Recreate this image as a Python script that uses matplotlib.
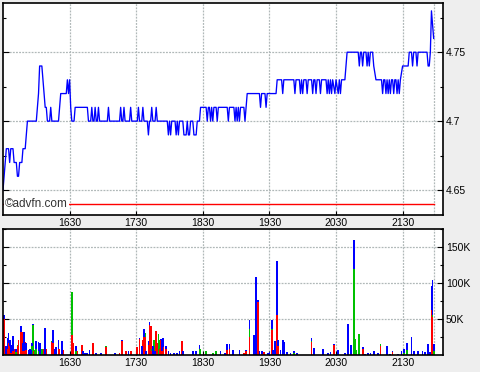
"""Intraday price and volume chart, advfn style."""

import matplotlib

matplotlib.use("Agg")
import matplotlib.pyplot as plt
import numpy as np
from matplotlib.ticker import FixedLocator, FuncFormatter

# x positions are minutes after 15:30
TICK_MINUTES = [60, 120, 180, 240, 300, 360]
TICK_LABELS = ["1630", "1730", "1830", "1930", "2030", "2130"]
X_END = 396.4
LAST_TRADE = 388.6
PREV_CLOSE = 4.64

price_min = [
    0, 1, 3, 5, 6, 7, 9, 10, 12, 13, 14, 15, 17, 18, 20, 21, 22, 30, 31, 32,
    33, 35, 36, 37, 38, 39, 40, 42, 43, 44, 50, 51, 52, 57, 58, 59, 60, 61, 62, 64,
    65, 76, 77, 79, 80, 81, 82, 83, 84, 85, 86, 87, 94, 95, 96, 105, 106, 107, 108, 109,
    110, 114, 115, 116, 121, 122, 123, 125, 126, 127, 130, 131, 132, 133, 134, 135, 137, 138, 139, 148,
    149, 150, 151, 152, 155, 156, 157, 158, 159, 162, 163, 165, 166, 167, 168, 169, 171, 172, 174, 175,
    177, 178, 183, 184, 185, 186, 187, 188, 189, 190, 192, 193, 194, 202, 203, 204, 208, 209, 210, 211,
    212, 213, 214, 217, 218, 219, 220, 231, 232, 233, 236, 237, 238, 246, 247, 251, 252, 253, 262, 263,
    264, 267, 268, 269, 270, 271, 273, 274, 275, 278, 279, 280, 281, 282, 283, 285, 286, 287, 291, 292,
    293, 294, 295, 296, 297, 299, 300, 302, 303, 304, 305, 308, 309, 310, 320, 321, 322, 323, 324, 325,
    327, 328, 329, 330, 331, 333, 334, 336, 340, 341, 342, 343, 344, 345, 346, 347, 348, 349, 350, 351,
    352, 353, 354, 355, 356, 357, 358, 360, 365, 366, 368, 369, 370, 372, 373, 374, 382, 383, 384, 385,
    386, 388,
]
price = [
    4.65, 4.66, 4.68, 4.68, 4.67, 4.68, 4.68, 4.67, 4.67, 4.66, 4.66, 4.67, 4.67, 4.68, 4.68, 4.69, 4.70, 4.70, 4.71, 4.72,
    4.74, 4.74, 4.73, 4.72, 4.71, 4.71, 4.70, 4.70, 4.71, 4.70, 4.70, 4.71, 4.72, 4.72, 4.73, 4.72, 4.73, 4.71, 4.70, 4.70,
    4.71, 4.71, 4.70, 4.70, 4.71, 4.70, 4.70, 4.71, 4.70, 4.70, 4.71, 4.70, 4.70, 4.71, 4.70, 4.70, 4.71, 4.70, 4.70, 4.71,
    4.70, 4.70, 4.71, 4.70, 4.70, 4.71, 4.70, 4.70, 4.71, 4.70, 4.70, 4.69, 4.70, 4.70, 4.71, 4.70, 4.70, 4.71, 4.70, 4.70,
    4.69, 4.70, 4.69, 4.70, 4.70, 4.69, 4.70, 4.69, 4.70, 4.70, 4.69, 4.69, 4.70, 4.69, 4.69, 4.70, 4.70, 4.69, 4.69, 4.70,
    4.70, 4.71, 4.71, 4.70, 4.71, 4.71, 4.70, 4.71, 4.70, 4.71, 4.71, 4.70, 4.71, 4.71, 4.70, 4.71, 4.71, 4.70, 4.71, 4.70,
    4.71, 4.70, 4.71, 4.71, 4.70, 4.71, 4.72, 4.72, 4.71, 4.72, 4.72, 4.71, 4.72, 4.72, 4.73, 4.73, 4.72, 4.73, 4.73, 4.72,
    4.73, 4.73, 4.72, 4.73, 4.72, 4.73, 4.73, 4.72, 4.73, 4.73, 4.72, 4.73, 4.73, 4.72, 4.73, 4.73, 4.72, 4.73, 4.73, 4.72,
    4.73, 4.72, 4.73, 4.72, 4.73, 4.72, 4.73, 4.72, 4.73, 4.72, 4.73, 4.73, 4.74, 4.75, 4.75, 4.74, 4.75, 4.75, 4.74, 4.75,
    4.75, 4.74, 4.75, 4.74, 4.75, 4.75, 4.74, 4.73, 4.73, 4.73, 4.72, 4.73, 4.73, 4.72, 4.73, 4.72, 4.73, 4.72, 4.73, 4.73,
    4.72, 4.73, 4.73, 4.72, 4.73, 4.72, 4.73, 4.74, 4.74, 4.75, 4.75, 4.74, 4.75, 4.75, 4.74, 4.75, 4.75, 4.74, 4.74, 4.75,
    4.78, 4.76,
]

# volume per minute, thousands of shares, stacked red / green / blue
vol_min = [
    1, 3, 4, 5, 6, 7, 8, 9, 11, 12, 13, 14, 16, 17, 18, 19, 20, 21, 23, 24,
    25, 26, 27, 29, 30, 32, 33, 35, 36, 38, 39, 44, 45, 47, 48, 50, 51, 53, 54, 62,
    63, 66, 67, 71, 72, 74, 76, 78, 81, 84, 88, 93, 101, 105, 107, 111, 113, 115, 121, 123,
    125, 126, 127, 128, 129, 131, 132, 133, 134, 135, 136, 137, 138, 139, 140, 141, 142, 143, 144, 147,
    149, 151, 154, 157, 159, 161, 162, 171, 174, 177, 178, 183, 189, 192, 196, 200, 202, 204, 207, 213,
    217, 219, 222, 226, 228, 230, 231, 233, 235, 239, 240, 242, 243, 245, 247, 248, 250, 252, 253, 256,
    259, 262, 265, 278, 280, 288, 293, 295, 298, 302, 308, 311, 313, 314, 316, 317, 318, 321, 324, 326,
    329, 331, 334, 338, 340, 346, 349, 351, 356, 359, 361, 364, 368, 370, 374, 378, 380, 383, 385, 386,
    387, 388,
]
vol_red = [
    50, 2, 9, 16, 12, 3, 7, 5, 8, 0, 12, 21, 32, 32, 5, 6, 18, 7, 0, 0,
    0, 0, 5, 0, 0, 0, 0, 0, 8, 0, 9, 18, 16, 0, 0, 9, 8, 0, 7, 28,
    16, 0, 5, 14, 0, 0, 0, 0, 16, 0, 0, 11, 0, 3, 19, 5, 0, 5, 11, 22,
    0, 21, 25, 25, 0, 14, 42, 40, 5, 0, 3, 0, 34, 16, 0, 9, 21, 5, 11, 9,
    0, 0, 0, 0, 0, 19, 0, 0, 0, 0, 0, 0, 0, 0, 0, 0, 7, 9, 0, 0,
    3, 5, 25, 0, 0, 74, 0, 2, 4, 0, 0, 35, 0, 0, 56, 12, 0, 0, 0, 0,
    0, 0, 0, 18, 0, 0, 0, 0, 14, 0, 0, 0, 0, 0, 2, 0, 0, 0, 8, 0,
    0, 0, 0, 0, 12, 0, 0, 4, 0, 0, 0, 0, 0, 0, 0, 0, 0, 0, 0, 62,
    53, 0,
]
vol_green = [
    0, 0, 0, 0, 0, 0, 2, 0, 0, 4, 2, 0, 0, 0, 0, 0, 0, 0, 0, 0,
    0, 12, 36, 7, 8, 5, 0, 9, 0, 0, 0, 1, 0, 0, 0, 0, 0, 0, 0, 60,
    0, 5, 0, 0, 0, 0, 0, 0, 0, 0, 0, 2, 0, 0, 0, 0, 0, 0, 0, 0,
    0, 0, 0, 6, 0, 0, 0, 0, 3, 0, 18, 0, 0, 0, 29, 12, 0, 0, 0, 0,
    0, 0, 0, 0, 0, 0, 0, 0, 0, 9, 9, 6, 3, 5, 2, 0, 0, 0, 0, 0,
    0, 0, 11, 0, 0, 0, 0, 0, 0, 0, 0, 1, 0, 0, 0, 0, 0, 0, 0, 0,
    0, 3, 0, 2, 0, 0, 0, 0, 0, 0, 0, 0, 0, 0, 117, 22, 7, 29, 0, 0,
    0, 0, 0, 0, 3, 0, 0, 0, 0, 0, 3, 7, 0, 0, 0, 0, 0, 0, 0, 0,
    2, 6,
]
vol_blue = [
    5, 10, 14, 14, 9, 11, 0, 21, 0, 5, 0, 0, 8, 0, 11, 26, 0, 9, 7, 9,
    7, 5, 2, 0, 11, 13, 16, 0, 0, 37, 0, 0, 19, 9, 11, 12, 0, 19, 0, 0,
    0, 7, 0, 0, 6, 3, 3, 7, 0, 3, 3, 0, 3, 0, 2, 0, 5, 0, 0, 1,
    12, 0, 11, 0, 5, 5, 4, 0, 0, 12, 0, 5, 0, 0, 0, 0, 1, 17, 12, 3,
    5, 3, 3, 3, 5, 0, 5, 5, 6, 5, 0, 0, 0, 0, 3, 3, 8, 6, 7, 7,
    0, 2, 12, 28, 109, 2, 5, 3, 0, 3, 4, 13, 7, 19, 74, 9, 7, 21, 18, 4,
    3, 2, 3, 3, 10, 8, 3, 4, 1, 7, 3, 43, 14, 14, 41, 0, 0, 0, 3, 2,
    3, 3, 5, 3, 0, 12, 2, 2, 2, 5, 6, 10, 25, 6, 6, 5, 4, 15, 4, 34,
    49, 9,
]

BG = "#eeeeee"
GRID = "#b0b8b8"
plt.rcParams["font.family"] = ["Liberation Sans", "DejaVu Sans"]
plt.rcParams["font.size"] = 7.5

fig = plt.figure(figsize=(4.8, 3.72), dpi=100, facecolor=BG)
ax_p = fig.add_axes([3 / 480, 1 - 215 / 372, 440 / 480, 212 / 372])
ax_v = fig.add_axes([3 / 480, 1 - 355 / 372, 440 / 480, 126 / 372])

# price panel
ax_p.plot(price_min, price, color="#0000ff", linewidth=0.95)
ax_p.plot([0, LAST_TRADE], [PREV_CLOSE, PREV_CLOSE], color="red", linewidth=1)
ax_p.set_ylim(4.6319, 4.7857)
ax_p.yaxis.set_major_locator(FixedLocator([4.65, 4.70, 4.75]))
ax_p.yaxis.set_minor_locator(FixedLocator([4.675, 4.725, 4.775]))
ax_p.yaxis.set_major_formatter(FuncFormatter(lambda v, _: f"{v:g}"))
ax_p.text(
    0.005, 0.052, "©advfn.com", transform=ax_p.transAxes, fontsize=8.5,
    color="#333333", va="center", ha="left",
    bbox=dict(facecolor="white", edgecolor="none", pad=0.6),
)

# volume panel
red = np.array(vol_red) * 1000
green = np.array(vol_green) * 1000
blue = np.array(vol_blue) * 1000
bar_style = dict(width=1.6, linewidth=0, antialiased=False)
ax_v.bar(vol_min, red, color="#ff0000", **bar_style)
ax_v.bar(vol_min, green, bottom=red, color="#00c000", **bar_style)
ax_v.bar(vol_min, blue, bottom=red + green, color="#0000ff", **bar_style)
ax_v.set_ylim(0, 175000)
ax_v.yaxis.set_major_locator(FixedLocator([50000, 100000, 150000]))
ax_v.yaxis.set_minor_locator(FixedLocator([25000, 75000, 125000, 175000]))
ax_v.yaxis.set_major_formatter(FuncFormatter(lambda v, _: f"{v / 1000:.0f}K"))

for ax in (ax_p, ax_v):
    ax.set_facecolor("white")
    ax.set_xlim(0, X_END)
    ax.set_xticks(TICK_MINUTES)
    ax.set_xticklabels(TICK_LABELS)
    ax.grid(True, which="major", color=GRID, linestyle=(0, (1.5, 1)), linewidth=0.9)
    ax.set_axisbelow(True)
    ax.axvline(LAST_TRADE, color=GRID, linestyle=(0, (1.5, 1)), linewidth=0.9, zorder=0.5)
    ax.tick_params(axis="y", which="both", direction="in", left=True, right=True,
                   labelleft=False, labelright=True, pad=2, colors="black")
    ax.tick_params(axis="y", which="major", length=4, width=0.8)
    ax.tick_params(axis="y", which="minor", length=2.5, width=0.8)
    ax.tick_params(axis="x", direction="in", length=3, width=0.8, pad=2)
    for spine in ax.spines.values():
        spine.set_linewidth(1.2)
        spine.set_color("black")

fig.savefig("out.png", dpi=100, facecolor=BG)
